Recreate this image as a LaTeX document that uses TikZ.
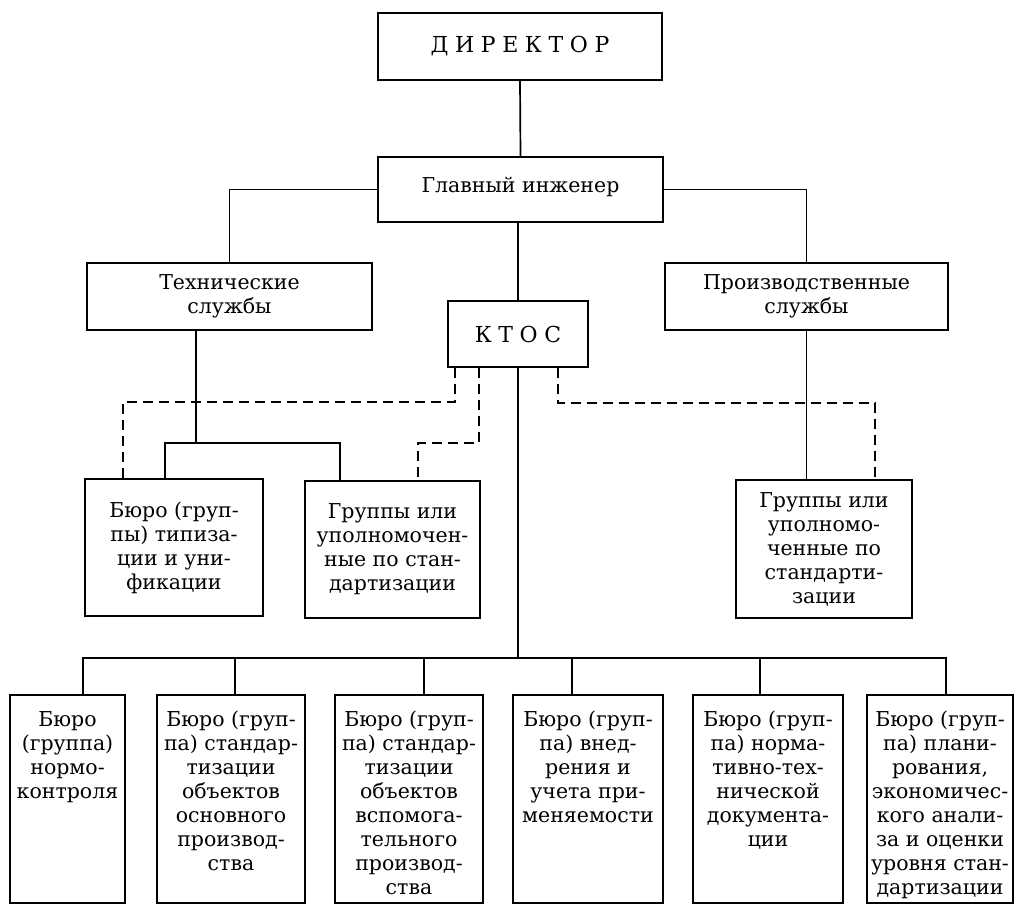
\documentclass[tikz,border=0pt]{standalone}
\usepackage{fontspec}
\setmainfont{DejaVu Serif}
\newfontfamily\spacedfont[LetterSpace=30]{DejaVu Serif}
\usetikzlibrary{positioning}
\tikzset{
  box/.style={draw, line width=1.8pt, inner sep=0pt, align=center,
    font=\fontsize{20.5}{24}\selectfont},
  boxtext/.style={inner sep=0pt, align=center, font=\fontsize{20.5}{24}\selectfont},
  link/.style={line width=1.7pt},
  dashlink/.style={line width=1.7pt, dash pattern=on 10pt off 6pt}
}
\begin{document}
\begin{tikzpicture}[x=1pt, y=-1pt]
        \useasboundingbox (0,0) rectangle (1016,906);

        \node[box, minimum width=284pt, minimum height=67pt] (dir) at (520,46.5)
          {\spacedfont\fontsize{22}{26}\selectfont ДИРЕКТОР};
        \node[box, minimum width=285pt, minimum height=65pt, text depth=10pt] (chief) at (520.5,189.5)
          {Главный инженер};
        \node[box, minimum width=285pt, minimum height=67pt] (tech) at (229.5,296.5)
          {Технические\\службы};
        \node[box, minimum width=283pt, minimum height=67pt] (prod) at (806.5,296.5)
          {Производственные\\службы};
        \node[box, minimum width=140pt, minimum height=66pt] (ktos) at (518,334)
          {\spacedfont\fontsize{22}{26}\selectfont КТОС};

        \node[box, minimum width=178pt, minimum height=137pt] (bt) at (174,547.5)
          {Бюро (груп-\\пы) типиза-\\ции и уни-\\фикации};
        \node[box, minimum width=175pt, minimum height=137pt] (gl) at (392.5,549.5)
          {Группы или\\уполномочен-\\ные по стан-\\дартизации};
        \node[box, minimum width=176pt, minimum height=138pt] (gr) at (824,549)
          {Группы или\\уполномо-\\ченные по\\стандарти-\\зации};

        \foreach \i/\x/\w in {1/67.5/115, 2/231/148, 3/409/148, 4/588/150, 5/768/150, 6/940/146}
          \node[box, minimum width=\w pt, minimum height=208pt] (b\i) at (\x,799) {};

        \node[boxtext, below=17pt of b1.north] (txt1) {Бюро\\(группа)\\нормо-\\контроля};
        \node[boxtext, below=17pt of b2.north] (txt2)
          {Бюро (груп-\\па) стандар-\\тизации\\объектов\\основного\\производ-\\ства};
        \node[boxtext, below=17pt of b3.north] (txt3)
          {Бюро (груп-\\па) стандар-\\тизации\\объектов\\вспомога-\\тельного\\производ-\\ства};
        \node[boxtext, below=17pt of b4.north] (txt4)
          {Бюро (груп-\\па) внед-\\рения и\\учета при-\\меняемости};
        \node[boxtext, below=17pt of b5.north] (txt5)
          {Бюро (груп-\\па) норма-\\тивно-тех-\\нической\\документа-\\ции};
        \node[boxtext, below=17pt of b6.north] (txt6)
          {Бюро (груп-\\па) плани-\\рования,\\экономичес-\\кого анали-\\за и оценки\\уровня стан-\\дартизации};

        \draw[link] (dir.south) -- (chief.north);
        \draw[link] (chief.west) -| (tech.north);
        \draw[link] (chief.east) -| (prod.north);
        \draw[link] (ktos.north) -- (ktos.north |- chief.south);

        \coordinate (tj) at (196,443);
        \coordinate (tl) at (165,443);
        \coordinate (tr) at (340,443);
        \draw[link] (tech.south -| tj) -- (tj);
        \draw[link] (bt.north -| tl) -- (tl) -- (tr) -- (tr |- gl.north);
        \draw[link] (prod.south) -- (prod.south |- gr.north);

        \coordinate (da) at (455,402);
        \coordinate (da2) at (123,402);
        \coordinate (db) at (479,443);
        \coordinate (db2) at (418,443);
        \coordinate (dc) at (558,403);
        \coordinate (dc2) at (875,403);
        \draw[dashlink] (ktos.south -| da) -- (da) -- (da2) -- (da2 |- bt.north);
        \draw[dashlink] (ktos.south -| db) -- (db) -- (db2) -- (db2 |- gl.north);
        \draw[dashlink] (ktos.south -| dc) -- (dc) -- (dc2) -- (dc2 |- gr.north);

        \coordinate (bus1) at (83,658);
        \coordinate (bus6) at (946,658);
        \draw[link] (ktos.south) -- (ktos.south |- bus1);
        \draw[link] (b1.north -| bus1) -- (bus1) -- (bus6) -- (bus6 |- b6.north);
        \foreach \i/\x in {2/235, 3/424, 4/572, 5/760} {
          \coordinate (d\i) at (\x,658);
          \draw[link] (d\i) -- (d\i |- b\i.north);
        }
\end{tikzpicture}
\end{document}
